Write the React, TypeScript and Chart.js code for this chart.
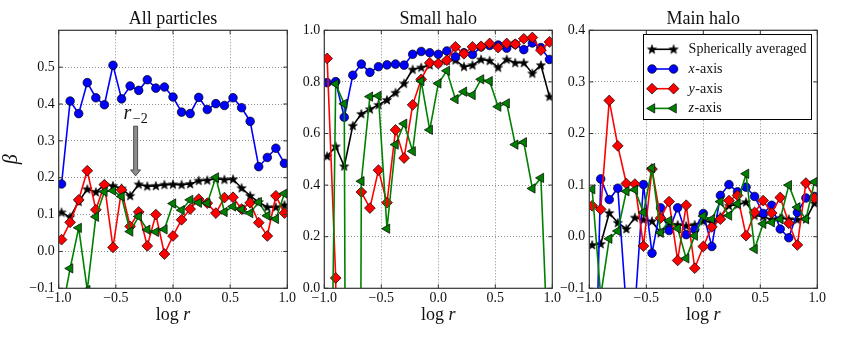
import React, { useEffect, useRef } from "react";
import { Chart, registerables } from "chart.js";

Chart.register(...registerables);

// ---------------- data ----------------
const LOG_R = [
  -0.975, -0.9, -0.825, -0.75, -0.675, -0.6, -0.525, -0.45, -0.375, -0.3, -0.225, -0.15, -0.075,
  0.0, 0.075, 0.15, 0.225, 0.3, 0.375, 0.45, 0.525, 0.6, 0.675, 0.75, 0.825, 0.9, 0.975,
];

const PANEL_TITLES = ["All particles", "Small halo", "Main halo"];
const SERIES_NAMES = ["Spherically averaged", "x-axis", "y-axis", "z-axis"];

const X_TICKS = [-1.0, -0.5, 0.0, 0.5, 1.0];
const Y_TICKS_ALL = [-0.1, 0.0, 0.1, 0.2, 0.3, 0.4, 0.5];
const Y_TICKS_SMALL = [0.0, 0.2, 0.4, 0.6, 0.8, 1.0];
const Y_TICKS_MAIN = [-0.1, 0.0, 0.1, 0.2, 0.3, 0.4];

// All particles
const ALL_SPH = [0.106, 0.093, 0.135, 0.169, 0.161, 0.181, 0.178, 0.171, 0.151, 0.182, 0.177, 0.178, 0.181, 0.182, 0.181, 0.183, 0.192, 0.193, 0.197, 0.195, 0.196, 0.172, 0.151, 0.134, 0.12, 0.12, 0.126];
const ALL_X = [0.183, 0.408, 0.374, 0.458, 0.417, 0.398, 0.505, 0.414, 0.449, 0.437, 0.466, 0.443, 0.446, 0.419, 0.378, 0.374, 0.418, 0.385, 0.401, 0.396, 0.417, 0.39, 0.353, 0.23, 0.255, 0.28, 0.239];
const ALL_Y = [0.032, 0.079, 0.14, 0.219, 0.113, 0.181, 0.011, 0.167, 0.068, 0.107, 0.015, 0.1, -0.007, 0.042, 0.086, 0.115, 0.142, 0.131, 0.104, 0.146, 0.147, 0.115, 0.132, 0.078, 0.042, 0.151, 0.104];
const ALL_Z = [-0.17, -0.046, 0.064, -0.105, 0.094, 0.162, 0.165, 0.149, 0.054, 0.095, 0.059, 0.053, 0.06, 0.13, 0.112, 0.14, 0.132, 0.131, 0.201, 0.107, 0.122, 0.114, 0.104, 0.134, 0.097, 0.088, 0.157];

// Small halo (null = no value plotted)
const SMALL_SPH = [0.512, 0.55, 0.473, 0.63, 0.676, 0.694, 0.711, 0.73, 0.758, 0.794, 0.848, 0.856, 0.865, 0.874, 0.882, 0.884, 0.859, 0.865, 0.887, 0.882, 0.856, 0.887, 0.874, 0.874, 0.833, 0.865, 0.743];
const SMALL_X = [0.797, 0.801, 0.663, 0.826, 0.869, 0.837, 0.859, 0.866, 0.869, 0.865, 0.907, 0.918, 0.913, 0.907, 0.92, 0.897, 0.913, 0.906, 0.936, 0.941, 0.943, 0.931, 0.946, 0.925, 0.951, 0.933, 0.887];
const SMALL_Y: (number | null)[] = [0.891, 0.04, -5.0, null, 0.373, 0.311, 0.458, 0.332, 0.614, 0.505, 0.711, 0.81, 0.874, 0.871, 0.884, 0.936, 0.909, 0.936, 0.938, 0.949, 0.933, 0.949, 0.946, 0.967, 0.972, 0.923, 0.955];
const SMALL_Z = [-1.7, 0.792, 0.715, -8.0, 0.415, 0.743, 0.746, 0.231, 0.557, 0.638, 0.531, 0.803, 0.614, 0.794, 0.843, 0.733, 0.762, 0.749, 0.81, 0.803, 0.704, 0.717, 0.557, 0.566, 0.387, 0.428, -0.4];

// Main halo
const MAIN_SPH = [-0.016, -0.014, 0.046, 0.027, 0.015, 0.037, 0.033, 0.03, 0.007, 0.026, 0.023, 0.021, 0.023, 0.03, 0.028, 0.039, 0.06, 0.062, 0.067, 0.041, 0.039, 0.033, 0.036, 0.034, 0.033, 0.034, 0.065];
const MAIN_X = [-0.55, 0.112, 0.072, 0.094, -0.14, -0.14, 0.101, -0.032, 0.056, 0.012, 0.056, 0.004, 0.014, 0.045, -0.019, 0.08, 0.101, 0.087, 0.096, 0.078, 0.045, 0.061, 0.015, -0.002, 0.047, 0.075, 0.078];
const MAIN_Y = [0.06, 0.053, 0.264, 0.176, 0.103, 0.102, -0.018, 0.131, 0.036, 0.068, -0.046, 0.061, -0.061, -0.019, 0.019, 0.034, 0.07, 0.08, 0.002, 0.047, 0.07, 0.046, 0.076, 0.026, -0.016, 0.104, 0.075];
const MAIN_Z = [0.092, -0.115, -0.004, 0.011, 0.088, 0.091, 0.047, 0.133, 0.008, 0.031, 0.016, -0.042, 0.002, 0.04, 0.034, 0.068, 0.041, 0.064, 0.122, -0.024, 0.025, 0.028, 0.034, 0.1, 0.057, 0.034, 0.106];

// annotation (r_-2 arrow) in data coordinates of the first panel
const ANNOT_X = -0.327;
const ANNOT_TEXT_Y = 0.358;
const ARROW_FROM_Y = 0.34;
const ARROW_TO_Y = 0.205;

// ---------------- styles ----------------
const FONT = "'Liberation Serif', 'DejaVu Serif', 'Times New Roman', serif";
const AXIS_COLOR = "#333333";
const TEXT_COLOR = "#111111";
const GRID_COLOR = "rgba(0,0,0,0.45)";

type Marker = "star" | "circle" | "rectRot" | "triangle";
const SERIES_STYLE: { color: string; marker: Marker; radius: number; rotation: number; order: number }[] = [
  { color: "#000000", marker: "star", radius: 4, rotation: 0, order: 3 },
  { color: "#0000ff", marker: "circle", radius: 4.3, rotation: 0, order: 2 },
  { color: "#ff0000", marker: "rectRot", radius: 5.4, rotation: 0, order: 1 },
  { color: "#008000", marker: "triangle", radius: 5.4, rotation: -90, order: 0 },
];

let starCanvas: HTMLCanvasElement | null = null;
function getStar(): HTMLCanvasElement {
  if (starCanvas) return starCanvas;
  const c = document.createElement("canvas");
  c.width = 12;
  c.height = 12;
  const g = c.getContext("2d")!;
  const R = 4.8, r = 2.0, cx = 6, cy = 6.3;
  g.beginPath();
  for (let k = 0; k < 10; k++) {
    const rad = k % 2 === 0 ? R : r;
    const ang = -Math.PI / 2 + (k * Math.PI) / 5;
    const px = cx + rad * Math.cos(ang);
    const py = cy + rad * Math.sin(ang);
    if (k === 0) g.moveTo(px, py);
    else g.lineTo(px, py);
  }
  g.closePath();
  g.fillStyle = "#000";
  g.fill();
  g.lineWidth = 0.6;
  g.strokeStyle = "#000";
  g.stroke();
  starCanvas = c;
  return c;
}

function fmt(v: number): string {
  const s = Math.abs(v).toFixed(1);
  return v < -1e-9 ? "\u2212" + s : s;
}

type PanelSpec = {
  title: string;
  series: (number | null)[][];
  yMin: number;
  yMax: number;
  yTicks: number[];
  left: number;
  width: number;
  axisW: number;
  padRight: number;
  yTitle?: string;
  legend?: boolean;
  annotate?: boolean;
};

const PANELS: PanelSpec[] = [
  {
    title: PANEL_TITLES[0], series: [ALL_SPH, ALL_X, ALL_Y, ALL_Z], yMin: -0.1, yMax: 0.6, yTicks: Y_TICKS_ALL,
    left: 0, width: 310, axisW: 58.7, padRight: 22.7, yTitle: "\u03B2", annotate: true,
  },
  {
    title: PANEL_TITLES[1], series: [SMALL_SPH, SMALL_X, SMALL_Y, SMALL_Z], yMin: 0, yMax: 1.0, yTicks: Y_TICKS_SMALL,
    left: 290, width: 280, axisW: 34.3, padRight: 17.7,
  },
  {
    title: PANEL_TITLES[2], series: [MAIN_SPH, MAIN_X, MAIN_Y, MAIN_Z], yMin: -0.1, yMax: 0.4, yTicks: Y_TICKS_MAIN,
    left: 555, width: 288, axisW: 34.3, padRight: 25.7, legend: true,
  },
];

function drawMarker(ctx: CanvasRenderingContext2D, idx: number, x: number, y: number) {
  const st = SERIES_STYLE[idx];
  ctx.save();
  if (st.marker === "star") {
    const img = getStar();
    ctx.drawImage(img, x - img.width / 2, y - img.height / 2);
    ctx.restore();
    return;
  }
  ctx.beginPath();
  const r = st.radius;
  if (st.marker === "circle") {
    ctx.arc(x, y, r, 0, Math.PI * 2);
  } else if (st.marker === "rectRot") {
    ctx.moveTo(x, y - r);
    ctx.lineTo(x + r, y);
    ctx.lineTo(x, y + r);
    ctx.lineTo(x - r, y);
    ctx.closePath();
  } else {
    // left-pointing triangle
    for (let k = 0; k < 3; k++) {
      const ang = Math.PI + (k * 2 * Math.PI) / 3;
      const px = x + r * Math.cos(ang);
      const py = y + r * Math.sin(ang);
      if (k === 0) ctx.moveTo(px, py);
      else ctx.lineTo(px, py);
    }
    ctx.closePath();
  }
  ctx.fillStyle = st.color;
  ctx.fill();
  ctx.lineWidth = 0.7;
  ctx.strokeStyle = "#000";
  ctx.stroke();
  ctx.restore();
}

function makeDecor(spec: PanelSpec) {
  return {
    id: "decor",
    afterDatasetsDraw(chart: any) {
      const ctx: CanvasRenderingContext2D = chart.ctx;
      const a = chart.chartArea;
      const xs = chart.scales.x;
      const ys = chart.scales.y;
      ctx.save();

      // frame
      ctx.strokeStyle = AXIS_COLOR;
      ctx.lineWidth = 1.2;
      ctx.strokeRect(a.left, a.top, a.right - a.left, a.bottom - a.top);

      // inward ticks on all sides
      ctx.lineWidth = 1;
      ctx.beginPath();
      for (const v of X_TICKS) {
        const px = xs.getPixelForValue(v);
        ctx.moveTo(px, a.bottom);
        ctx.lineTo(px, a.bottom - 4);
        ctx.moveTo(px, a.top);
        ctx.lineTo(px, a.top + 4);
      }
      for (const v of spec.yTicks) {
        const py = ys.getPixelForValue(v);
        ctx.moveTo(a.left, py);
        ctx.lineTo(a.left + 4, py);
        ctx.moveTo(a.right, py);
        ctx.lineTo(a.right - 4, py);
      }
      ctx.stroke();

      // annotation arrow + r_-2
      if (spec.annotate) {
        const ax = xs.getPixelForValue(ANNOT_X);
        const yTop = ys.getPixelForValue(ARROW_FROM_Y);
        const yTip = ys.getPixelForValue(ARROW_TO_Y);
        const headLen = 6, sh = 2, hh = 5;
        ctx.beginPath();
        ctx.moveTo(ax - sh, yTop);
        ctx.lineTo(ax + sh, yTop);
        ctx.lineTo(ax + sh, yTip - headLen);
        ctx.lineTo(ax + hh, yTip - headLen);
        ctx.lineTo(ax, yTip);
        ctx.lineTo(ax - hh, yTip - headLen);
        ctx.lineTo(ax - sh, yTip - headLen);
        ctx.closePath();
        ctx.fillStyle = "#8c8c8c";
        ctx.fill();
        ctx.strokeStyle = "#333";
        ctx.lineWidth = 0.8;
        ctx.stroke();

        ctx.textAlign = "left";
        ctx.textBaseline = "alphabetic";
        ctx.fillStyle = TEXT_COLOR;
        ctx.font = `italic 20px ${FONT}`;
        const rw = ctx.measureText("r").width;
        ctx.font = `14px ${FONT}`;
        const sw = ctx.measureText("\u22122").width;
        const tx = ax - (rw + 1.5 + sw) / 2;
        const ty = ys.getPixelForValue(ANNOT_TEXT_Y);
        ctx.font = `italic 20px ${FONT}`;
        ctx.fillText("r", tx, ty);
        ctx.font = `14px ${FONT}`;
        ctx.fillText("\u22122", tx + rw + 1.5, ty + 4);
      }

      // legend
      if (spec.legend) {
        const bw = 167.7, bh = 84.7;
        const bx = a.right - 7 - bw;
        const by = a.top + 4;
        ctx.fillStyle = "#ffffff";
        ctx.fillRect(bx, by, bw, bh);
        ctx.strokeStyle = "#000";
        ctx.lineWidth = 1;
        ctx.strokeRect(Math.round(bx) + 0.5, Math.round(by) + 0.5, Math.round(bw), Math.round(bh));
        const rows = [15, 34.7, 54.4, 74.1];
        SERIES_NAMES.forEach((name, i) => {
          const ry = by + rows[i];
          const x1 = bx + 9.4, x2 = bx + 31;
          ctx.strokeStyle = SERIES_STYLE[i].color;
          ctx.lineWidth = 1.6;
          ctx.beginPath();
          ctx.moveTo(x1, ry);
          ctx.lineTo(x2, ry);
          ctx.stroke();
          drawMarker(ctx, i, x1, ry);
          drawMarker(ctx, i, x2, ry);
          ctx.fillStyle = TEXT_COLOR;
          ctx.textAlign = "left";
          ctx.textBaseline = "alphabetic";
          const tx = bx + 46;
          const ty = ry + 4;
          if (i === 0) {
            ctx.font = `14px ${FONT}`;
            ctx.fillText(name, tx, ty);
          } else {
            const letter = name.charAt(0);
            const rest = name.slice(1);
            ctx.font = `italic 14px ${FONT}`;
            const lw = ctx.measureText(letter).width;
            ctx.fillText(letter, tx, ty);
            ctx.font = `14px ${FONT}`;
            ctx.fillText(rest, tx + lw + 0.5, ty);
          }
        });
      }

      // x axis title: log r
      {
        const cx = (a.left + a.right) / 2;
        const by2 = 319.5;
        ctx.fillStyle = TEXT_COLOR;
        ctx.textAlign = "left";
        ctx.textBaseline = "alphabetic";
        ctx.font = `18px ${FONT}`;
        const w1 = ctx.measureText("log ").width;
        ctx.font = `italic 18px ${FONT}`;
        const w2 = ctx.measureText("r").width;
        const sx = cx - (w1 + w2) / 2;
        ctx.font = `18px ${FONT}`;
        ctx.fillText("log ", sx, by2);
        ctx.font = `italic 18px ${FONT}`;
        ctx.fillText("r", sx + w1, by2);
      }

      ctx.restore();
    },
  };
}

function buildConfig(spec: PanelSpec): any {
  const datasets = spec.series.map((vals, i) => {
    const st = SERIES_STYLE[i];
    return {
      label: SERIES_NAMES[i],
      data: LOG_R.map((x, k) => ({ x, y: vals[k] })),
      borderColor: st.color,
      backgroundColor: st.color,
      borderWidth: 1.6,
      pointStyle: st.marker === "star" ? getStar() : st.marker,
      pointRadius: st.radius,
      pointRotation: st.rotation,
      pointBackgroundColor: st.color,
      pointBorderColor: "#000",
      pointBorderWidth: 0.7,
      tension: 0,
      spanGaps: false,
      order: st.order,
      clip: 0,
    };
  });

  const gridColor = (ctx: any) => {
    const v = ctx.tick ? ctx.tick.value : NaN;
    const sc = ctx.scale;
    if (sc && (Math.abs(v - sc.min) < 1e-9 || Math.abs(v - sc.max) < 1e-9)) return "rgba(0,0,0,0)";
    return GRID_COLOR;
  };

  return {
    type: "line",
    data: { datasets },
    options: {
      responsive: false,
      animation: false,
      events: [],
      layout: { padding: { left: 0, right: spec.padRight, top: 0, bottom: 0 } },
      plugins: {
        legend: { display: false },
        tooltip: { enabled: false },
        title: {
          display: true,
          text: spec.title,
          fullSize: false,
          color: TEXT_COLOR,
          font: { family: FONT, size: 18, weight: "normal", lineHeight: 1.2 },
          padding: { top: 8.7, bottom: 0 },
        },
      },
      scales: {
        x: {
          type: "linear",
          min: -1,
          max: 1,
          afterBuildTicks: (scale: any) => {
            scale.ticks = X_TICKS.map((v) => ({ value: v }));
          },
          afterFit: (scale: any) => {
            scale.height = 51.7;
          },
          ticks: {
            autoSkip: false,
            maxRotation: 0,
            padding: 1.5,
            color: TEXT_COLOR,
            font: { family: FONT, size: 14 },
            callback: (v: any) => fmt(Number(v)),
          },
          grid: { color: gridColor, lineWidth: 1, drawTicks: false },
          border: { display: false, dash: [1, 2] },
        },
        y: {
          type: "linear",
          min: spec.yMin,
          max: spec.yMax,
          afterBuildTicks: (scale: any) => {
            scale.ticks = spec.yTicks.map((v) => ({ value: v }));
          },
          afterFit: (scale: any) => {
            scale.width = spec.axisW;
          },
          title: spec.yTitle
            ? {
                display: true,
                text: spec.yTitle,
                color: TEXT_COLOR,
                font: { family: FONT, size: 20, style: "italic", lineHeight: 1.2 },
                padding: 0,
              }
            : { display: false },
          ticks: {
            padding: 4,
            color: TEXT_COLOR,
            font: { family: FONT, size: 14 },
            callback: (v: any) => fmt(Number(v)),
          },
          grid: { color: gridColor, lineWidth: 1, drawTicks: false },
          border: { display: false, dash: [1, 2] },
        },
      },
    },
    plugins: [makeDecor(spec)],
  };
}

function Panel({ spec }: { spec: PanelSpec }) {
  const ref = useRef<HTMLCanvasElement>(null);
  useEffect(() => {
    if (!ref.current) return;
    const chart = new Chart(ref.current, buildConfig(spec));
    return () => chart.destroy();
  }, [spec]);
  return (
    <canvas
      ref={ref}
      width={spec.width}
      height={340}
      style={{ position: "absolute", left: spec.left, top: 0, width: spec.width, height: 340 }}
    />
  );
}

export default function App() {
  return (
    <div
      style={{
        position: "fixed",
        left: 0,
        top: 0,
        width: 843,
        height: 340,
        background: "#ffffff",
        overflow: "hidden",
      }}
    >
      {PANELS.map((p, i) => (
        <Panel key={i} spec={p} />
      ))}
    </div>
  );
}
